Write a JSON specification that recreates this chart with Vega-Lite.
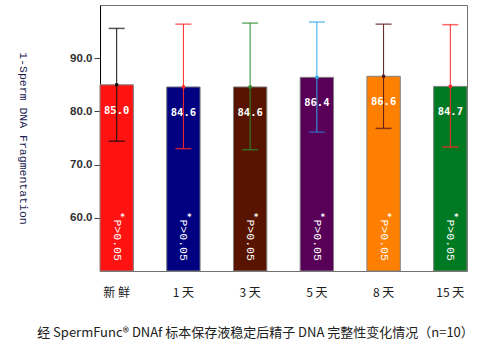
{
  "$schema": "https://vega.github.io/schema/vega-lite/v6.json",
  "width": 367,
  "height": 266,
  "autosize": "none",
  "padding": {"left": 100, "top": 5, "right": 21, "bottom": 86},
  "background": "white",
  "config": {"view": {"stroke": "#707070", "strokeWidth": 1}},
  "data": {"values": [
    {"day": "新  鲜", "mean": 85.0, "lo": 74.4, "hi": 95.6},
    {"day": "1 天", "mean": 84.6, "lo": 73.0, "hi": 96.4},
    {"day": "3 天", "mean": 84.6, "lo": 72.8, "hi": 96.6},
    {"day": "5 天", "mean": 86.4, "lo": 76.1, "hi": 96.8},
    {"day": "8 天", "mean": 86.6, "lo": 76.8, "hi": 96.4},
    {"day": "15 天", "mean": 84.7, "lo": 73.3, "hi": 96.3}
  ]},
  "encoding": {
    "x": {
      "field": "day", "type": "nominal", "sort": null,
      "scale": {"paddingInner": 0.5, "paddingOuter": 0},
      "axis": {
        "domain": false, "ticks": false, "labelAngle": 0, "labelPadding": 16,
        "labelFont": "Noto Sans CJK SC", "labelFontSize": 12, "labelColor": "#202020",
        "title": "经 SpermFunc® DNAf 标本保存液稳定后精子 DNA 完整性变化情况（n=10）",
        "titleFont": "Noto Sans CJK SC", "titleFontSize": 13, "titleFontWeight": "normal",
        "titleColor": "#202020",
        "titleX": 155, "titleY": 61, "titleAlign": "center", "titleBaseline": "middle"
      }
    }
  },
  "resolve": {"scale": {"color": "independent"}},
  "layer": [
    {
      "mark": {"type": "bar", "stroke": "#808080", "strokeWidth": 1},
      "encoding": {
        "y": {
          "field": "mean", "type": "quantitative",
          "scale": {"domain": [50, 100], "nice": false, "zero": false},
          "axis": {
            "values": [60, 70, 80, 90], "format": ".1f", "grid": false,
            "domainColor": "#000000", "tickColor": "#404040", "tickSize": 6,
            "labelFont": "Liberation Sans", "labelFontSize": 11.5, "labelFontWeight": "bold",
            "labelColor": "#303030", "labelPadding": 2,
            "title": "1-Sperm DNA Fragmentation",
            "titleFont": "Liberation Mono", "titleFontSize": 11.5, "titleFontWeight": "normal",
            "titleColor": "#202050", "titleAngle": 90,
            "titleX": -78, "titleY": 133, "titleAlign": "center", "titleBaseline": "middle"
          }
        },
        "y2": {"datum": 50},
        "color": {
          "field": "day", "type": "nominal", "legend": null,
          "scale": {
            "domain": ["新  鲜", "1 天", "3 天", "5 天", "8 天", "15 天"],
            "range": ["#FF1212", "#000080", "#581400", "#580058", "#FF8000", "#007A22"]
          }
        }
      }
    },
    {
      "mark": {"type": "rule", "strokeWidth": 1},
      "encoding": {
        "y": {"field": "lo", "type": "quantitative"},
        "y2": {"field": "hi"},
        "color": {
          "field": "day", "type": "nominal", "legend": null,
          "scale": {
            "domain": ["新  鲜", "1 天", "3 天", "5 天", "8 天", "15 天"],
            "range": ["#101010", "#FF2828", "#2A8A2A", "#30A8E8", "#5A1A1A", "#FF2828"]
          }
        }
      }
    },
    {
      "mark": {"type": "tick", "size": 16, "thickness": 1.5, "opacity": 0.7},
      "encoding": {
        "y": {"field": "hi", "type": "quantitative"},
        "color": {
          "field": "day", "type": "nominal", "legend": null,
          "scale": {
            "domain": ["新  鲜", "1 天", "3 天", "5 天", "8 天", "15 天"],
            "range": ["#101010", "#FF2828", "#2A8A2A", "#30A8E8", "#5A1A1A", "#FF2828"]
          }
        }
      }
    },
    {
      "mark": {"type": "tick", "size": 16, "thickness": 1.5, "opacity": 0.75},
      "encoding": {
        "y": {"field": "lo", "type": "quantitative"},
        "color": {
          "field": "day", "type": "nominal", "legend": null,
          "scale": {
            "domain": ["新  鲜", "1 天", "3 天", "5 天", "8 天", "15 天"],
            "range": ["#101010", "#FF2828", "#2A8A2A", "#3070D0", "#5A1A1A", "#FF2828"]
          }
        }
      }
    },
    {
      "mark": {"type": "point", "shape": "square", "filled": true, "size": 10, "opacity": 1},
      "encoding": {
        "y": {"field": "mean", "type": "quantitative"},
        "color": {
          "field": "day", "type": "nominal", "legend": null,
          "scale": {
            "domain": ["新  鲜", "1 天", "3 天", "5 天", "8 天", "15 天"],
            "range": ["#101010", "#FF2828", "#2A8A2A", "#30A8E8", "#5A1A1A", "#FF2828"]
          }
        }
      }
    },
    {
      "mark": {"type": "text", "dy": 26, "baseline": "middle", "align": "center",
               "font": "DejaVu Sans Mono", "fontSize": 10.5, "fontWeight": "bold", "color": "white"},
      "encoding": {
        "y": {"field": "mean", "type": "quantitative"},
        "text": {"field": "mean", "type": "quantitative", "format": ".1f"}
      }
    },
    {
      "mark": {"type": "text", "angle": 90, "baseline": "middle", "align": "center",
               "font": "Liberation Mono", "fontSize": 11.5, "color": "white"},
      "encoding": {
        "y": {"datum": 55.8},
        "text": {"value": "P>0.05"}
      }
    },
    {
      "mark": {"type": "text", "baseline": "middle", "align": "center", "dx": 6,
               "font": "DejaVu Sans", "fontSize": 8, "fontWeight": "bold", "color": "white"},
      "encoding": {
        "y": {"datum": 60.0},
        "text": {"value": "*"}
      }
    }
  ]
}
